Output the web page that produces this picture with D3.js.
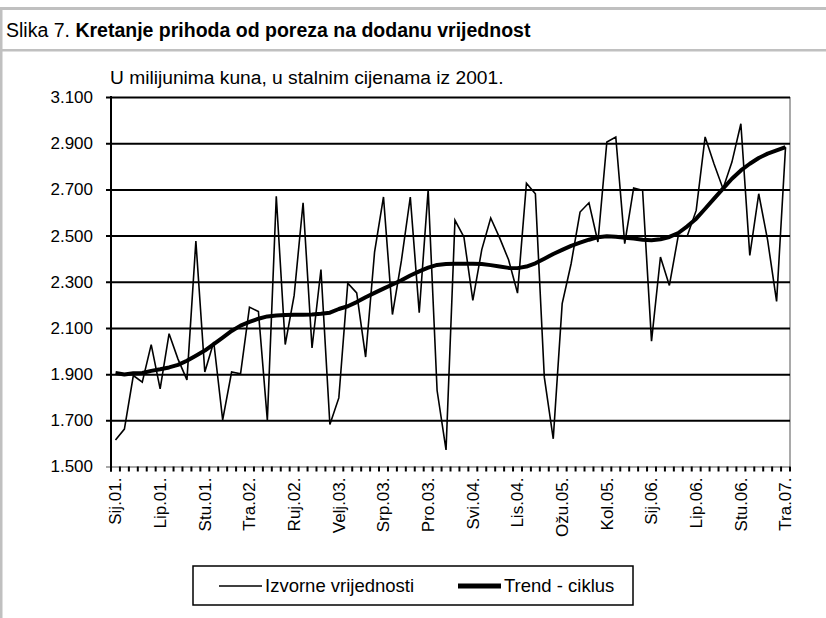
<!DOCTYPE html>
<html>
<head>
<meta charset="utf-8">
<script src="https://cdn.jsdelivr.net/npm/d3@7"></script>
<style>
  body { margin:0; background:#fff; }
  svg text { font-family: Arial, "Liberation Sans", sans-serif; fill:#000; }
</style>
</head>
<body>
<div id="container"></div>
<script>
// months (Croatian abbreviations) and years of the series
var months = ['Sij','Velj','Ožu','Tra','Svi','Lip','Srp','Kol','Ruj','Lis','Stu','Pro'];
var years = ['01','02','03','04','05','06','07'];

// source values, mil. kuna (Jan 2001 - Apr 2007)
var izvorne = [
	1615,1662,1894,1865,2028,1836,2075,1965,1875,2476,1909,2039,
	1702,1909,1901,2190,2171,1700,2670,2028,2241,2642,2013,2353,
	1682,1797,2294,2252,1974,2428,2667,2158,2390,2667,2166,2698,
	1829,1572,2566,2494,2219,2439,2576,2490,2395,2251,2727,2681,
	1887,1620,2205,2378,2602,2642,2472,2905,2927,2465,2706,2696,
	2043,2407,2284,2501,2498,2609,2927,2810,2703,2818,2984,2414,
	2681,2479,2215,2883
];

// trend - cycle
var trend = [
	1905,1898,1904,1905,1914,1921,1929,1940,1958,1980,2002,2030,
	2058,2087,2110,2126,2140,2150,2154,2156,2157,2157,2158,2161,
	2166,2182,2194,2212,2233,2252,2270,2288,2306,2327,2345,2361,
	2373,2377,2378,2378,2378,2377,2372,2366,2360,2359,2366,2380,
	2400,2420,2438,2455,2469,2482,2493,2497,2495,2491,2487,2482,
	2480,2484,2494,2511,2540,2573,2616,2660,2703,2746,2782,2811,
	2836,2855,2869,2883
];

var yTicks = [1500,1700,1900,2100,2300,2500,2700,2900,3100];

var categories = [];
years.forEach(function(y){
	months.forEach(function(m){
		if(categories.length < izvorne.length) categories.push(m + '.' + y + '.');
	});
});

var W = 826, H = 618;
var margin = { top:97, right:36, bottom:151.5, left:111 };
var fmt = function(v){ return d3.format(',')(v).replace(/,/g,'.'); };

var svg = d3.select('#container').append('svg')
	.attr('width',W)
	.attr('height',H);

// frame
svg.append('rect').attr('x',0).attr('y',7).attr('width',W).attr('height',3).attr('fill','#c0c0c0');
svg.append('rect').attr('x',0).attr('y',49).attr('width',W).attr('height',2.5).attr('fill','#c0c0c0');
svg.append('rect').attr('x',0).attr('y',7).attr('width',2.5).attr('height',H-7).attr('fill','#c0c0c0');

var title = svg.append('text')
	.attr('x',6)
	.attr('y',37)
	.style('font-size','19.5px');
title.append('tspan').text('Slika 7. ');
title.append('tspan').style('font-weight','bold').text('Kretanje prihoda od poreza na dodanu vrijednost');

svg.append('text')
	.attr('x',110)
	.attr('y',84)
	.style('font-size','19.2px')
	.text('U milijunima kuna, u stalnim cijenama iz 2001.');

var x = d3.scaleBand()
	.domain(categories)
	.range([margin.left, W - margin.right]);

var y = d3.scaleLinear()
	.domain([1500,3100])
	.range([H - margin.bottom, margin.top]);

// plot area border (right)
svg.append('line')
	.attr('x1',x.range()[1]).attr('x2',x.range()[1])
	.attr('y1',y(3100)).attr('y2',y(1500))
	.attr('stroke','#8c8c8c').attr('stroke-width',1.5);

// gridlines + y axis
var yAxis = d3.axisLeft(y)
	.tickValues(yTicks)
	.tickSize(-(x.range()[1] - x.range()[0]))
	.tickFormat(fmt);

var gy = svg.append('g')
	.attr('transform','translate(' + margin.left + ',0)')
	.call(yAxis);
gy.select('.domain').remove();
gy.selectAll('.tick line')
	.attr('x1',-5)
	.attr('stroke','#000')
	.attr('stroke-width',2)
	.filter(function(d){ return d === 1500; })
	.attr('stroke','#8c8c8c')
	.attr('stroke-width',1.5);
gy.selectAll('.tick text')
	.attr('x',-18)
	.style('font-size','17px')
	.style('font-family','Arial, "Liberation Sans", sans-serif');

svg.append('line')
	.attr('x1',margin.left).attr('x2',margin.left)
	.attr('y1',y(3100)-1).attr('y2',y(1500)+5)
	.attr('stroke','#000').attr('stroke-width',2);

// x axis: ticks between categories, labels every fifth month
var bounds = categories.map(function(c){ return x(c); }).concat([x.range()[1]]);
svg.selectAll('line.xtick')
	.data(bounds)
	.enter().append('line')
	.classed('xtick',true)
	.attr('x1',function(d){ return d; })
	.attr('x2',function(d){ return d; })
	.attr('y1',y(1500))
	.attr('y2',y(1500)+5)
	.attr('stroke','#000')
	.attr('stroke-width',2);

var tickLabels = categories.filter(function(c,i){ return i % 5 === 0; });
svg.selectAll('text.xlab')
	.data(tickLabels)
	.enter().append('text')
	.classed('xlab',true)
	.attr('transform',function(d){
		return 'translate(' + (x(d) + x.bandwidth()/2) + ',' + (y(1500)+11) + ') rotate(-90)';
	})
	.attr('text-anchor','end')
	.attr('dy','0.35em')
	.style('font-size','17px')
	.text(function(d){ return d; });

// lines
var cx = function(i){ return x(categories[i]) + x.bandwidth()/2; };
var line = d3.line()
	.x(function(d,i){ return cx(i); })
	.y(function(d){ return y(d); });

svg.append('path')
	.datum(izvorne)
	.attr('d',line)
	.attr('fill','none')
	.attr('stroke','#000')
	.attr('stroke-width',1.6)
	.attr('stroke-linejoin','miter');

svg.append('path')
	.datum(trend)
	.attr('d',line)
	.attr('fill','none')
	.attr('stroke','#000')
	.attr('stroke-width',4)
	.attr('stroke-linejoin','round');

// legend
var lg = svg.append('g');
lg.append('rect')
	.attr('x',193).attr('y',566)
	.attr('width',440).attr('height',39)
	.attr('fill','#fff')
	.attr('stroke','#000')
	.attr('stroke-width',1.5);

var legendItems = [
	{ name:'Izvorne vrijednosti', w:1.6, x:219 },
	{ name:'Trend - ciklus', w:5, x:458 }
];
legendItems.forEach(function(d){
	lg.append('line')
		.attr('x1',d.x).attr('x2',d.x+43)
		.attr('y1',586).attr('y2',586)
		.attr('stroke','#000')
		.attr('stroke-width',d.w);
	lg.append('text')
		.attr('x',d.x+46)
		.attr('y',586)
		.attr('dy','0.35em')
		.style('font-size','18.5px')
		.text(d.name);
});
</script>
</body>
</html>
